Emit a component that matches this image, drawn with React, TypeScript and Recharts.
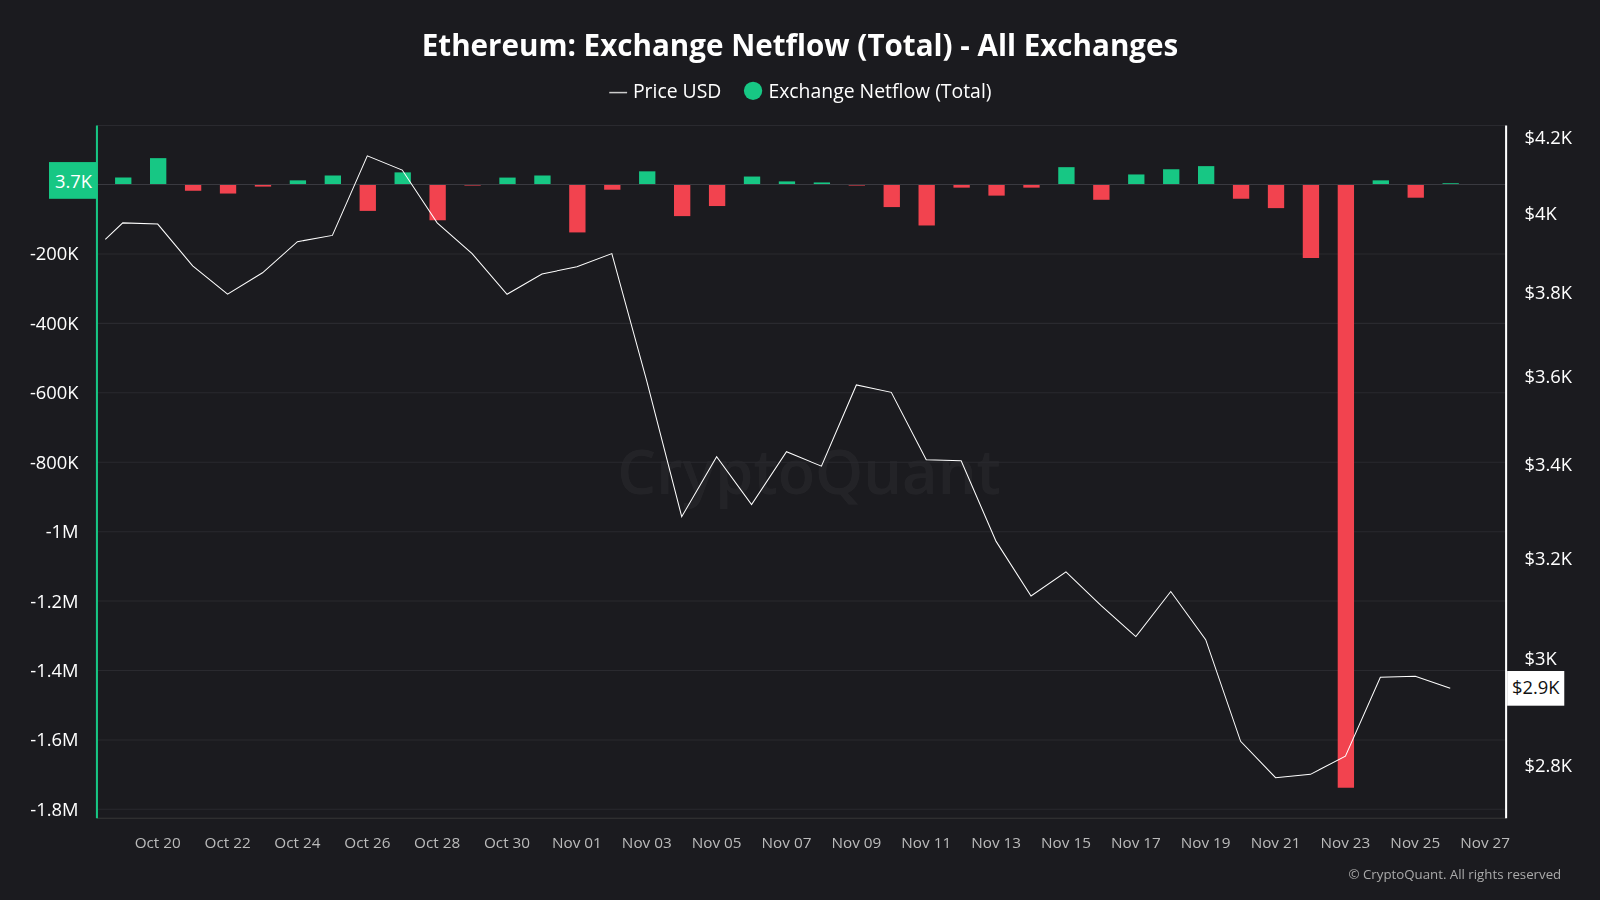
import { ComposedChart, Bar, Line, XAxis, YAxis, CartesianGrid, Cell, ReferenceLine } from 'recharts'

// day index: 0 = Oct 19
const dayIdx = Array.from({ length: 39 }, (_, i) => i)
const netflow = [
  20000, 76000, -18000, -26000, -6000, 12000, 26000, -76000, 35000, -103000,
  -3000, 20000, 26000, -138000, -15000, 38000, -91000, -62000, 23000, 9000,
  6000, -3000, -65000, -118000, -9000, -32000, -9000, 50000, -44000, 29000,
  44000, 53000, -41000, -68000, -212000, -1738000, 12000, -38000, 3700,
]
const priceIdx = [-0.5, ...dayIdx]
const price = [
  3933, 3975, 3972, 3866, 3796, 3849, 3927, 3943, 4151, 4113, 3975, 3897, 3796,
  3846, 3864, 3897, 3589, 3288, 3418, 3314, 3429, 3397, 3580, 3563, 3411, 3409,
  3236, 3124, 3173, 3105, 3043, 3133, 3037, 2844, 2778, 2784, 2817, 2964, 2966, 2943,
]
const xTicks = [1, 3, 5, 7, 9, 11, 13, 15, 17, 19, 21, 23, 25, 27, 29, 31, 33, 35, 37, 39]
const leftTicks = [-200000, -400000, -600000, -800000, -1000000, -1200000, -1400000, -1600000, -1800000]
const rightTicks = [2800, 3000, 3200, 3400, 3600, 3800, 4000, 4200]

const GREEN = '#17c784'
const RED = '#f2434f'
const BG = '#1b1b1f'

const data = priceIdx.map((d, i) => ({
  d,
  price: price[i],
  netflow: Number.isInteger(d) ? netflow[d] : null,
}))

const dateLabel = (d: number) => {
  const dt = new Date(2025, 9, 19 + d)
  const m = dt.getMonth() === 9 ? 'Oct' : 'Nov'
  return `${m} ${String(dt.getDate()).padStart(2, '0')}`
}
const fmtLeft = (v: number) => (Math.abs(v) >= 1e6 ? `${v / 1e6}M` : `${v / 1000}K`)
const fmtRight = (v: number) => (v % 1000 === 0 ? `$${v / 1000}K` : `$${(v / 1000).toFixed(1)}K`)

const LeftMarker = ({ viewBox }: any) => (
  <g>
    <rect x={48} y={viewBox.y - 22} width={47} height={36} fill={GREEN} />
    <text x={72} y={viewBox.y + 3} fill="#fff" fontSize={18} textAnchor="middle">3.7K</text>
  </g>
)
const RightMarker = ({ viewBox }: any) => (
  <g>
    <rect x={1477} y={viewBox.y - 17} width={56} height={34} fill="#fff" />
    <text x={1505} y={viewBox.y + 6} fill="#111" fontSize={18} textAnchor="middle">$2.9K</text>
  </g>
)

export default function App() {
  return (
    <div style={{ position: 'absolute', left: 0, top: 0, width: 1600, height: 900, background: BG, overflow: 'hidden' }}>
      <div style={{ position: 'absolute', left: 0, top: 0, width: 1568, height: 882, transform: 'scale(1.0204)', transformOrigin: '0 0', fontFamily: '"Open Sans", "Noto Sans", sans-serif' }}>
        <div style={{ position: 'absolute', top: 24, width: '100%', textAlign: 'center', color: '#fff', fontSize: 29, fontWeight: 700 }}>
          Ethereum: Exchange Netflow (Total) - All Exchanges
        </div>
        <div style={{ position: 'absolute', top: 76, width: '100%', display: 'flex', justifyContent: 'center', color: '#fff', fontSize: 19, gap: 22 }}>
          <span><span style={{ color: '#ccc' }}>— </span>Price USD</span>
          <span><span style={{ display: 'inline-block', width: 18, height: 18, borderRadius: 9, background: GREEN, marginRight: 6, verticalAlign: -2 }} />Exchange Netflow (Total)</span>
        </div>
        <div style={{ position: 'absolute', top: 420, left: 605, color: '#ffffff', opacity: 0.04, fontSize: 60, fontWeight: 600 }}>CryptoQuant</div>
        <div style={{ position: 'absolute', top: 847, right: 38, color: '#aaa', fontSize: 13 }}>© CryptoQuant. All rights reserved</div>
        <ComposedChart width={1568} height={882} data={data} margin={{ top: 123, left: 10, right: 0, bottom: 50 }} style={{ position: 'absolute', left: 0, top: 0 }}>
          <CartesianGrid stroke="#2a2a2f" vertical={false} yAxisId="l" />
          <XAxis dataKey="d" type="number" domain={[-0.74, 39.6]} ticks={xTicks} tickFormatter={dateLabel}
            tick={{ fill: '#bbb', fontSize: 15 }} tickLine={false} axisLine={{ stroke: '#333' }} tickMargin={12} />
          <YAxis yAxisId="l" orientation="left" width={85} domain={[-1826000, 170000]} ticks={leftTicks} tickFormatter={fmtLeft}
            tick={{ fill: '#fff', fontSize: 18 }} tickLine={false} axisLine={{ stroke: GREEN, strokeWidth: 2 }} tickMargin={12} />
          <YAxis yAxisId="r" orientation="right" width={92} scale="log" domain={[2706, 4233]} ticks={rightTicks} tickFormatter={fmtRight}
            tick={{ fill: '#fff', fontSize: 18, textAnchor: 'start' }} tickLine={false} axisLine={{ stroke: '#fff', strokeWidth: 2 }} tickMargin={12} allowDataOverflow />
          <ReferenceLine yAxisId="l" y={0} stroke="#3a3a40" label={<LeftMarker />} />
          <ReferenceLine yAxisId="r" y={2943} stroke="none" label={<RightMarker />} />
          <Bar yAxisId="l" dataKey="netflow" barSize={16} isAnimationActive={false}>
            {data.map((p, i) => (
              <Cell key={i} fill={(p.netflow ?? 0) >= 0 ? GREEN : RED} />
            ))}
          </Bar>
          <Line yAxisId="r" dataKey="price" stroke="#fff" strokeWidth={1} dot={false} isAnimationActive={false} />
        </ComposedChart>
      </div>
    </div>
  )
}
